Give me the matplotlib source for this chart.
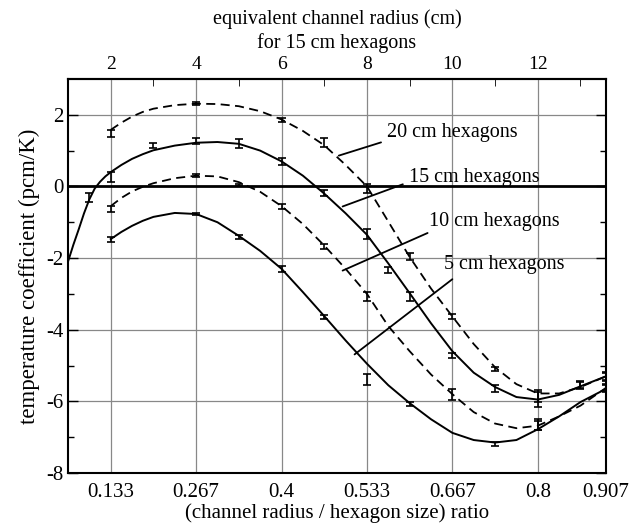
import matplotlib
matplotlib.use("Agg")
import matplotlib.pyplot as plt
from matplotlib.ticker import FixedLocator

plt.rcParams['font.family'] = ['Liberation Serif', 'DejaVu Serif']
plt.rcParams['font.size'] = 14
plt.rcParams['axes.unicode_minus'] = False

# radio equivalente del canal (cm) para hexagonos de 15 cm -> razon = r / 15
hex_size = 15.0

# curvas ajustadas
r_c15 = [1.0, 1.125, 1.25, 1.375, 1.5, 1.625, 1.75, 1.875, 2.0, 2.25, 2.5, 2.75,
         3.0, 3.5, 4.0, 4.5, 5.0, 5.5, 6.0, 6.5, 7.0, 7.5, 8.0, 8.5, 9.0, 9.5,
         10.0, 10.5, 11.0, 11.5, 12.0, 12.5, 13.0, 13.6]
c15 = [-2.10, -1.63, -1.20, -0.75, -0.36, -0.06, 0.13, 0.28, 0.40, 0.60, 0.77, 0.90,
       1.01, 1.14, 1.22, 1.24, 1.19, 1.00, 0.70, 0.30, -0.20, -0.75, -1.35, -2.15,
       -2.98, -3.82, -4.60, -5.20, -5.60, -5.88, -5.95, -5.82, -5.58, -5.30]

r_c = [2.0, 2.25, 2.5, 2.75, 3.0, 3.5, 4.0, 4.5, 5.0, 5.5, 6.0, 6.5, 7.0, 7.5,
       8.0, 8.5, 9.0, 9.5, 10.0, 10.5, 11.0, 11.5, 12.0, 12.5, 13.0, 13.6]
c20 = [1.58, 1.78, 1.95, 2.08, 2.17, 2.27, 2.31, 2.30, 2.24, 2.10, 1.87, 1.55,
       1.15, 0.60, 0.0, -0.98, -1.97, -2.85, -3.63, -4.40, -5.05, -5.52,
       -5.78, -5.78, -5.60, -5.30]
c10 = [-0.55, -0.32, -0.14, -0.01, 0.09, 0.23, 0.30, 0.28, 0.12, -0.15, -0.55, -1.05,
       -1.65, -2.30, -3.00, -3.90, -4.60, -5.25, -5.80, -6.30, -6.62, -6.75,
       -6.68, -6.42, -6.12, -5.62]
c5 = [-1.47, -1.27, -1.10, -0.96, -0.85, -0.74, -0.77, -1.00, -1.38, -1.80, -2.30, -2.95,
      -3.62, -4.30, -4.95, -5.55, -6.05, -6.50, -6.88, -7.08, -7.15, -7.08,
      -6.78, -6.42, -6.02, -5.65]

# puntos calculados con barras de error
r20 = [2, 4, 6, 7, 8, 9, 10, 11, 12, 13, 13.6]
y20 = [1.48, 2.31, 1.86, 1.22, -0.05, -1.96, -3.63, -5.09, -5.85, -5.55, -5.30]
e20 = [0.10, 0.04, 0.05, 0.12, 0.12, 0.10, 0.07, 0.05, 0.18, 0.10, 0.12]

r15 = [1.5, 2, 3, 4, 5, 6, 7, 8, 8.5, 9, 10, 11, 12, 13, 13.6]
y15 = [-0.31, 0.26, 1.14, 1.26, 1.20, 0.70, -0.19, -1.33, -2.33, -3.07, -4.72,
       -5.64, -5.95, -5.53, -5.30]
e15 = [0.12, 0.14, 0.07, 0.08, 0.12, 0.10, 0.08, 0.14, 0.08, 0.12, 0.06, 0.10,
       0.20, 0.10, 0.10]

r10 = [2, 4, 5, 6, 7, 8, 10, 12, 13.6]
y10 = [-0.62, 0.31, 0.05, -0.57, -1.69, -3.07, -5.81, -6.65, -5.62]
e10 = [0.08, 0.04, 0.03, 0.07, 0.07, 0.12, 0.15, 0.15, 0.10]

r5 = [2, 4, 5, 6, 7, 8, 9, 11, 12, 13.6]
y5 = [-1.48, -0.78, -1.41, -2.31, -3.65, -5.39, -6.07, -7.20, -6.68, -5.65]
e5 = [0.07, 0.03, 0.05, 0.08, 0.05, 0.15, 0.05, 0.06, 0.12, 0.10]

etiquetas = ["20 cm hexagons", "15 cm hexagons", "10 cm hexagons", "5 cm hexagons"]
linea_desde = [(7.34, 0.86), (7.43, -0.56), (7.43, -2.35), (7.71, -4.69)]
linea_hasta = [(8.33, 1.23), (8.84, 0.06), (9.42, -1.30), (10.0, -2.59)]
texto_en = [(8.46, 1.51), (8.99, 0.26), (9.46, -0.99), (9.81, -2.19)]

ticks_top = [2, 4, 6, 8, 10, 12]
ticks_bottom = [2, 4, 6, 8, 10, 12, 13.6]

fig = plt.figure(figsize=(6.38, 5.29), dpi=100)
ax = fig.add_axes([0.1066, 0.1059, 0.8434, 0.7448])

# grilla
for r in ticks_top:
    ax.axvline(r, color='#888888', lw=0.9, zorder=1)
for y in [-6, -4, -2, 2]:
    ax.axhline(y, color='#888888', lw=0.9, zorder=1)
ax.axhline(0, color='black', lw=2.0, zorder=2)

dash = (0, (5, 3))
ax.plot(r_c, c20, color='black', lw=1.3, linestyle=dash, zorder=3)
ax.plot(r_c15, c15, color='black', lw=1.4, zorder=3)
ax.plot(r_c, c10, color='black', lw=1.3, linestyle=dash, zorder=3)
ax.plot(r_c, c5, color='black', lw=1.4, zorder=3)

for rr, yy, ee in [(r20, y20, e20), (r15, y15, e15), (r10, y10, e10), (r5, y5, e5)]:
    ax.errorbar(rr, yy, yerr=ee, fmt='none', ecolor='black', elinewidth=1.2,
                capsize=3, capthick=1.2, zorder=4)

for txt, a, b, t in zip(etiquetas, linea_desde, linea_hasta, texto_en):
    ax.annotate('', xy=a, xytext=b,
                arrowprops=dict(arrowstyle='-', color='black', lw=1.3,
                                shrinkA=0, shrinkB=0))
    ax.text(t[0], t[1], txt, ha='left', va='center', fontsize=14.5, zorder=5)

ax.set_xlim(1, 13.6)
ax.set_ylim(-8, 3)

ax.set_xticks(ticks_bottom)
ax.set_xticklabels([f"{r / hex_size:.3f}".rstrip('0') for r in ticks_bottom])
ax.set_yticks([-8, -6, -4, -2, 0, 2])
ax.yaxis.set_minor_locator(FixedLocator([-7, -5, -3, -1, 1]))
ax.tick_params(axis='both', which='both', direction='in', labelsize=15)
ax.tick_params(axis='y', which='both', right=True)
ax.tick_params(axis='y', which='major', length=7, width=1)
ax.tick_params(axis='y', which='minor', length=4, width=1)
ax.tick_params(axis='x', which='major', length=0, pad=7)

top = ax.secondary_xaxis('top')
top.set_xticks(ticks_top)
top.xaxis.set_minor_locator(FixedLocator([1, 3, 5, 7, 9, 11, 13]))
top.tick_params(which='both', direction='in', labelsize=14, pad=4)
top.tick_params(which='major', length=0)
top.tick_params(which='minor', length=5)
top.set_xlabel('equivalent channel radius (cm)\nfor 15 cm hexagons', fontsize=14.5,
               labelpad=6, linespacing=1.25, fontfamily='Liberation Serif')

for s in list(ax.spines.values()) + [top.spines['top']]:
    s.set_linewidth(1.5)

ax.set_xlabel('(channel radius / hexagon size) ratio', fontsize=15, labelpad=1)
ax.set_ylabel('temperature coefficient (pcm/K)', fontsize=16.5, labelpad=4)

fig.savefig('out.png', dpi=100)
